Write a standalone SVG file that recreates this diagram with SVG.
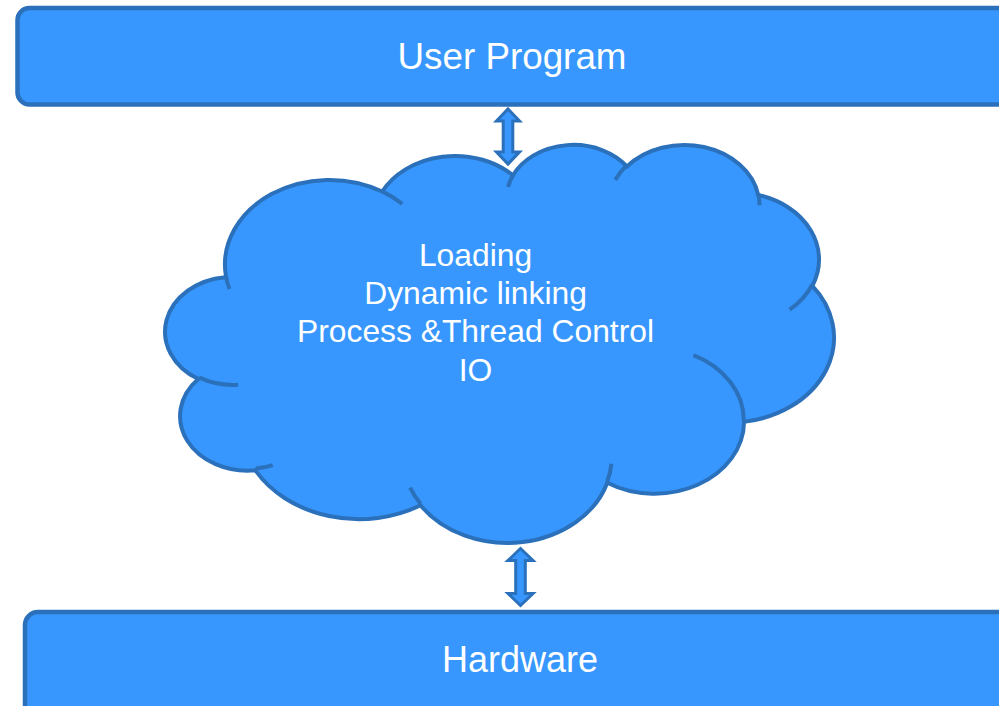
<svg xmlns="http://www.w3.org/2000/svg" width="999" height="706" viewBox="0 0 999 706">
<style>
.box{fill:#3797fe;stroke:#2b70ba;stroke-width:4.5}
.cloud{fill:#3797fe;stroke:#2b70ba;stroke-width:4}
.inner{fill:none;stroke:#2b70ba;stroke-width:4}
.arr{fill:#3797fe;stroke:#2b70ba;stroke-width:3;stroke-linejoin:miter}
.t{font-family:"Liberation Sans",Arial,sans-serif;fill:#ffffff;text-anchor:middle}
</style>
<rect width="999" height="706" fill="#ffffff"/>
<g id="user-program">
<rect class="box" x="17.5" y="8" width="1000" height="96.5" rx="12" ry="12"/>
<text class="t" x="512" y="68.5" font-size="36.8">User Program</text>
</g>
<g id="kernel-cloud">
<g transform="translate(165.6 143.6) scale(0.015466 0.009211)">
<path class="cloud" vector-effect="non-scaling-stroke" d="M3900,14370 A6753,9190 0 0 1 14005,5201 A5333,7267 0 0 1 22456,3431 A4365,5945 0 0 1 29833,2479 A4857,6595 0 0 1 38317,5575 A5333,7273 0 0 1 41818,15459 A6775,9220 0 0 1 37404,30202 A5785,7867 0 0 1 28556,36813 A6752,9215 0 0 1 16481,39266 A7720,10543 0 0 1 5804,35471 A4360,5918 0 0 1 2112,25550 A4345,5945 0 0 1 3862,14507 Z"/>
<path class="inner" vector-effect="non-scaling-stroke" d="M4693,26177 A4345,5945 0 0 1 2160,25379 M6928,34899 A4360,5918 0 0 1 5820,35281 M16478,39090 A6752,9215 0 0 1 15810,37347 M28827,34751 A6752,9215 0 0 1 28560,36660 M34129,22954 A5785,7867 0 0 1 37381,30090 M41798,15354 A5333,7273 0 0 1 40349,18031 M38324,5426 A4857,6595 0 0 1 38400,6690 M29078,3952 A4857,6595 0 0 1 29822,2338 M22141,4720 A4365,5945 0 0 1 22500,3330 M14000,5192 A6753,9190 0 0 1 15302,6543 M4127,15789 A6753,9190 0 0 1 3901,14372"/>
</g>
<text class="t" font-size="31.8"><tspan x="475.5" y="265.7">Loading</tspan><tspan x="475.5" y="304">Dynamic linking</tspan><tspan x="475.5" y="342.3">Process &amp;Thread Control</tspan><tspan x="475.5" y="380.5">IO</tspan></text>
</g>
<g id="hardware">
<rect class="box" x="25" y="612" width="1000" height="120" rx="13" ry="13"/>
<text class="t" x="520" y="671.5" font-size="36">Hardware</text>
</g>
<g id="connectors">
<polygon class="arr" points="508,109 519.5,121 512.8,121 512.8,152 519.5,152 508,164 496.5,152 503.2,152 503.2,121 496.5,121"/>
<polygon class="arr" points="520.5,548.5 533,560.5 525.3,560.5 525.3,593.5 533,593.5 520.5,605.5 508,593.5 515.7,593.5 515.7,560.5 508,560.5"/>
</g>
</svg>
